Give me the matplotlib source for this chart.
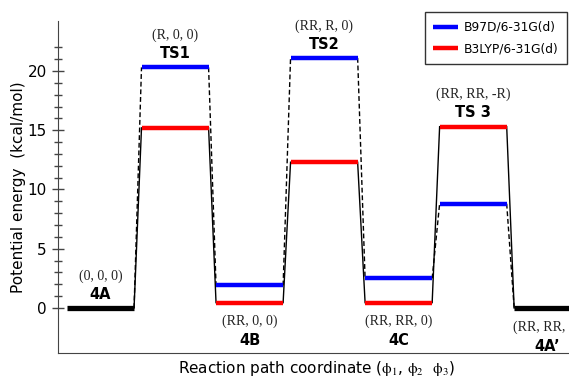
import matplotlib
matplotlib.use("Agg")
from matplotlib import pyplot as plt

# Energy levels (kcal/mol) along the reaction path.
states = ['4A', 'TS1', '4B', 'TS2', '4C', 'TS 3', '4A\u2019']
conformers = ['(0, 0, 0)', '(R, 0, 0)', '(RR, 0, 0)', '(RR, R, 0)',
              '(RR, RR, 0)', '(RR, RR, -R)', '(RR, RR, R)']
b97d = [0, 20.3, 1.9, 21.1, 2.5, 8.8, 0]
b3lyp = [0, 15.2, 0.45, 12.3, 0.45, 15.3, 0]
label_above = [True, True, False, True, False, True, False]
reference = [0, 6]  # states drawn in black

half = 0.45

plt.rcParams['mathtext.fontset'] = 'stix'

fig = plt.figure(dpi=100, figsize=(5.69, 3.78))
ax = fig.add_axes([0.102, 0.066, 0.909, 0.878])

# Connectors between levels.
for i in range(len(states) - 1):
    ax.plot([i + half, i + 1 - half], [b3lyp[i], b3lyp[i + 1]],
            color='black', lw=1.0, zorder=1)
    ax.plot([i + half, i + 1 - half], [b97d[i], b97d[i + 1]],
            color='black', lw=1.0, ls=(0, (3.5, 2)), zorder=1)

# Levels.
for i in range(len(states)):
    if i in reference:
        ax.plot([i - half, i + half], [b97d[i], b97d[i]], color='black',
                lw=3.8, solid_capstyle='butt', zorder=3)
        continue
    ax.plot([i - half, i + half], [b97d[i], b97d[i]], color='blue',
            lw=3.2, solid_capstyle='butt', zorder=3,
            label='B97D/6-31G(d)' if i == 1 else None)
    ax.plot([i - half, i + half], [b3lyp[i], b3lyp[i]], color='red',
            lw=3.2, solid_capstyle='butt', zorder=3,
            label='B3LYP/6-31G(d)' if i == 1 else None)

# State labels.
for i in range(len(states)):
    if label_above[i]:
        y = max(b97d[i], b3lyp[i])
        off_name, off_conf = 10, 23
    else:
        y = min(b97d[i], b3lyp[i])
        off_name, off_conf = -27.5, -13.5
    ax.annotate(states[i], (i, y), xytext=(0, off_name),
                textcoords='offset points', ha='center', va='center',
                fontsize=10.5, fontweight='bold', annotation_clip=False)
    ax.annotate(conformers[i], (i, y), xytext=(0, off_conf),
                textcoords='offset points', ha='center', va='center',
                fontsize=10, family='Liberation Serif', color='#222222',
                annotation_clip=False)

ax.set_xlim(-0.57, 6.37)
ax.set_ylim(-3.8, 24.2)
ax.set_yticks([0, 5, 10, 15, 20])
ax.set_yticks(range(0, 23), minor=True)
ax.set_xticks([])
ax.tick_params(axis='y', which='major', direction='inout', length=9,
               width=1, labelsize=11, color='#444444')
ax.tick_params(axis='y', which='minor', direction='inout', length=6,
               width=1, color='#444444')
ax.spines['top'].set_visible(False)
ax.spines['right'].set_visible(False)
for s in ['left', 'bottom']:
    ax.spines[s].set_color('#444444')

ax.set_ylabel('Potential energy  (kcal/mol)', fontsize=11, labelpad=1)
ax.set_xlabel(r'Reaction path coordinate ($\mathrm{\phi}_1$, '
              r'$\mathrm{\phi}_2$  $\mathrm{\phi}_3$)',
              fontsize=11, labelpad=4)

leg = ax.legend(loc='upper right', bbox_to_anchor=(0.996, 1.045),
                fontsize=8.8, frameon=True, fancybox=False,
                handlelength=2.0, handletextpad=0.5, borderpad=0.7,
                labelspacing=0.7)
leg.get_frame().set_edgecolor('black')
leg.get_frame().set_linewidth(1.0)

plt.savefig('out.png', dpi=100)
